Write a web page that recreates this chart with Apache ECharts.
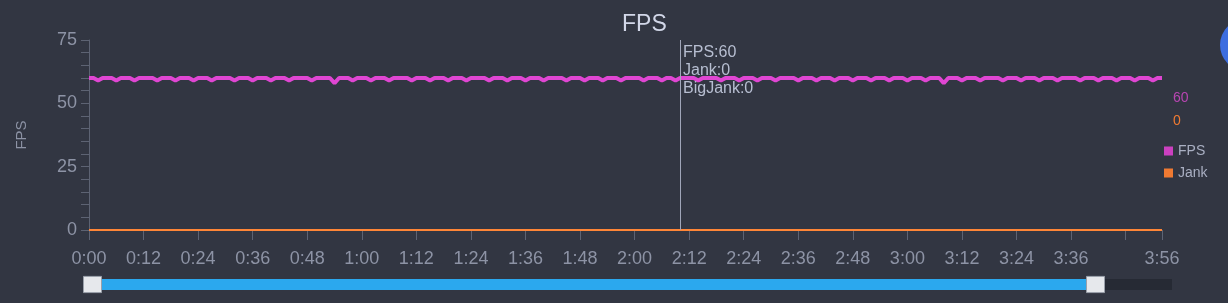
<!DOCTYPE html>
<html>
<head>
<meta charset="utf-8">
<script src="https://cdn.jsdelivr.net/npm/echarts@6/dist/echarts.min.js"></script>
<style>
html,body{margin:0;padding:0;background:#323642;}
#c{width:1228px;height:303px;}
</style>
</head>
<body>
<div id="c"></div>
<script>
// seconds 0..236, one sample per second
const fps = [
60,60,59,60,60,60,59,60,60,60,
59,60,60,60,60,59,60,60,60,59,
60,60,60,59,60,60,60,59,60,60,
60,60,59,60,60,60,59,60,60,60,
59,60,60,60,59,60,60,60,60,59,
60,60,60,60,58,60,60,60,59,60,
60,60,59,60,60,60,59,60,60,60,
60,59,60,60,60,59,60,60,60,59,
60,60,60,59,60,60,60,60,59,60,
60,60,59,60,60,60,59,60,60,60,
59,60,60,60,60,59,60,60,60,59,
60,60,60,59,60,60,60,59,60,60,
60,60,59,60,60,60,59,60,60,59,
60,60,60,60,59,60,60,60,60,59,
60,60,60,59,60,60,60,59,60,60,
60,59,60,60,60,60,59,60,60,60,
59,60,60,60,59,60,60,60,59,60,
60,60,59,60,60,60,59,60,60,60,
59,60,60,60,59,60,60,60,58,60,
60,60,59,60,60,60,59,60,60,60,
60,59,60,60,60,59,60,60,60,59,
60,60,60,59,60,60,60,60,59,60,
60,60,59,60,60,60,59,60,60,60,
59,60,60,60,59,60,60
];
const jank = [
0,0,0,0,0,0,0,0,0,0, 0,0,0,0,0,0,0,0,0,0, 0,0,0,0,0,0,0,0,0,0,
0,0,0,0,0,0,0,0,0,0, 0,0,0,0,0,0,0,0,0,0, 0,0,0,0,0,0,0,0,0,0,
0,0,0,0,0,0,0,0,0,0, 0,0,0,0,0,0,0,0,0,0, 0,0,0,0,0,0,0,0,0,0,
0,0,0,0,0,0,0,0,0,0, 0,0,0,0,0,0,0,0,0,0, 0,0,0,0,0,0,0,0,0,0,
0,0,0,0,0,0,0,0,0,0, 0,0,0,0,0,0,0,0,0,0, 0,0,0,0,0,0,0,0,0,0,
0,0,0,0,0,0,0,0,0,0, 0,0,0,0,0,0,0,0,0,0, 0,0,0,0,0,0,0,0,0,0,
0,0,0,0,0,0,0,0,0,0, 0,0,0,0,0,0,0,0,0,0, 0,0,0,0,0,0,0,0,0,0,
0,0,0,0,0,0,0,0,0,0, 0,0,0,0,0,0,0,0,0,0, 0,0,0,0,0,0,0
];
const bigJank = jank.slice();
const yTicks = [0, 25, 50, 75];
const xMaxSec = 236;
const xTickStep = 12;
const tooltipIndex = 130;

const FONT = "'Liberation Sans', Arial, sans-serif";
const C_FPS = '#cc40c0';
const C_JANK = '#f07a32';
const C_AXIS = '#5d6373';
const C_LABEL = '#8d93a5';

function fmtTime(v){
  const m = Math.floor(v/60), s = Math.round(v%60);
  return m + ':' + (s<10?'0':'') + s;
}

const fpsData = fps.map((v,i)=>[i,v]);
const jankData = jank.map((v,i)=>[i,v]);

const chart = echarts.init(document.getElementById('c'), null, {renderer:'canvas'});
chart.setOption({
  backgroundColor: '#323642',
  animation: false,
  textStyle: {fontFamily: FONT},
  title: {
    text: 'FPS', left: 617, top: 8,
    textStyle: {color: '#d2d7e8', fontSize: 23, fontWeight: 'normal', fontFamily: FONT}
  },
  grid: {left: 89, right: 66, top: 40, bottom: 73},
  legend: {
    orient: 'vertical', left: 1159, top: 139, icon: 'rect',
    itemWidth: 9, itemHeight: 9, itemGap: 8,
    textStyle: {color: '#a9afc2', fontSize: 14, fontFamily: FONT},
    data: ['FPS', 'Jank']
  },
  tooltip: {
    trigger: 'axis', triggerOn: 'none', alwaysShowContent: true,
    backgroundColor: 'transparent', borderWidth: 0, padding: 0,
    extraCssText: 'box-shadow:none;',
    axisPointer: {type: 'line', lineStyle: {color: '#a0a6b9', width: 1, type: 'solid'}, label:{show:false}},
    position: function(point){ return [point[0] + 3, 43]; },
    formatter: function(params){
      const i = params[0].dataIndex;
      return '<div style="color:#b7bed1;font-size:16px;line-height:18px;font-family:' + FONT.replace(/'/g,'') + '">' +
        'FPS:' + fps[i] + '<br>Jank:' + jank[i] + '<br>BigJank:' + bigJank[i] + '</div>';
    }
  },
  xAxis: {
    type: 'value', min: 0, max: xMaxSec, interval: xTickStep,
    axisLine: {show: true, lineStyle: {color: C_AXIS}},
    axisTick: {show: true, length: 10, lineStyle: {color: C_AXIS}},
    splitLine: {show: false},
    axisLabel: {
      color: C_LABEL, fontSize: 18, margin: 20, fontFamily: FONT,
      showMaxLabel: true,
      formatter: function(v){
        if (v !== xMaxSec && xMaxSec - v < xTickStep) return '';
        return fmtTime(v);
      }
    }
  },
  yAxis: {
    type: 'value', min: yTicks[0], max: yTicks[yTicks.length-1], interval: 25,
    name: 'FPS', nameLocation: 'middle', nameGap: 60,
    nameTextStyle: {color: C_LABEL, fontSize: 15, fontFamily: FONT},
    axisLine: {show: true, lineStyle: {color: C_AXIS}},
    axisTick: {show: true, length: 8, lineStyle: {color: C_AXIS}},
    minorTick: {show: true, splitNumber: 5, length: 8, lineStyle: {color: C_AXIS}},
    splitLine: {show: false},
    axisLabel: {color: C_LABEL, fontSize: 18, margin: 12, fontFamily: FONT}
  },
  dataZoom: [{
    type: 'slider', xAxisIndex: 0, filterMode: 'none',
    start: 0, end: 100,
    left: 90, right: 133, top: 279, height: 11,
    showDetail: false, showDataShadow: false, brushSelect: false,
    moveHandleSize: 0,
    backgroundColor: '#262a34', borderColor: 'transparent',
    fillerColor: '#2ba8ee',
    handleIcon: 'path://M0,0H20V18H0Z',
    handleSize: 18,
    handleStyle: {color: '#e6e8ec', borderColor: '#9aa0aa', borderWidth: 1},
    dataBackground: {lineStyle:{opacity:0}, areaStyle:{opacity:0}}
  }],
  graphic: [
    {type: 'rect', z: 1, shape: {x: 1095, y: 279, width: 77, height: 11}, style: {fill: '#262a34'}},
    {type: 'circle', shape: {cx: 1246, cy: 45, r: 26}, style: {fill: '#3d6ee0'}},
    {type: 'text', x: 1173, y: 91, style: {text: String(fps[fps.length-1]), fill: '#b845b2', font: '14px ' + FONT}},
    {type: 'text', x: 1173, y: 114, style: {text: String(jank[jank.length-1]), fill: C_JANK, font: '14px ' + FONT}}
  ],
  series: [
    {name: 'FPS', type: 'line', data: fpsData, symbol: 'none', smooth: false,
     lineStyle: {color: C_FPS, width: 4}, itemStyle: {color: C_FPS}, z: 3},
    {name: 'Jank', type: 'line', data: jankData, symbol: 'none',
     lineStyle: {color: C_JANK, width: 2}, itemStyle: {color: C_JANK}, z: 2}
  ]
});
chart.dispatchAction({type: 'showTip', seriesIndex: 0, dataIndex: tooltipIndex});
</script>
</body>
</html>
